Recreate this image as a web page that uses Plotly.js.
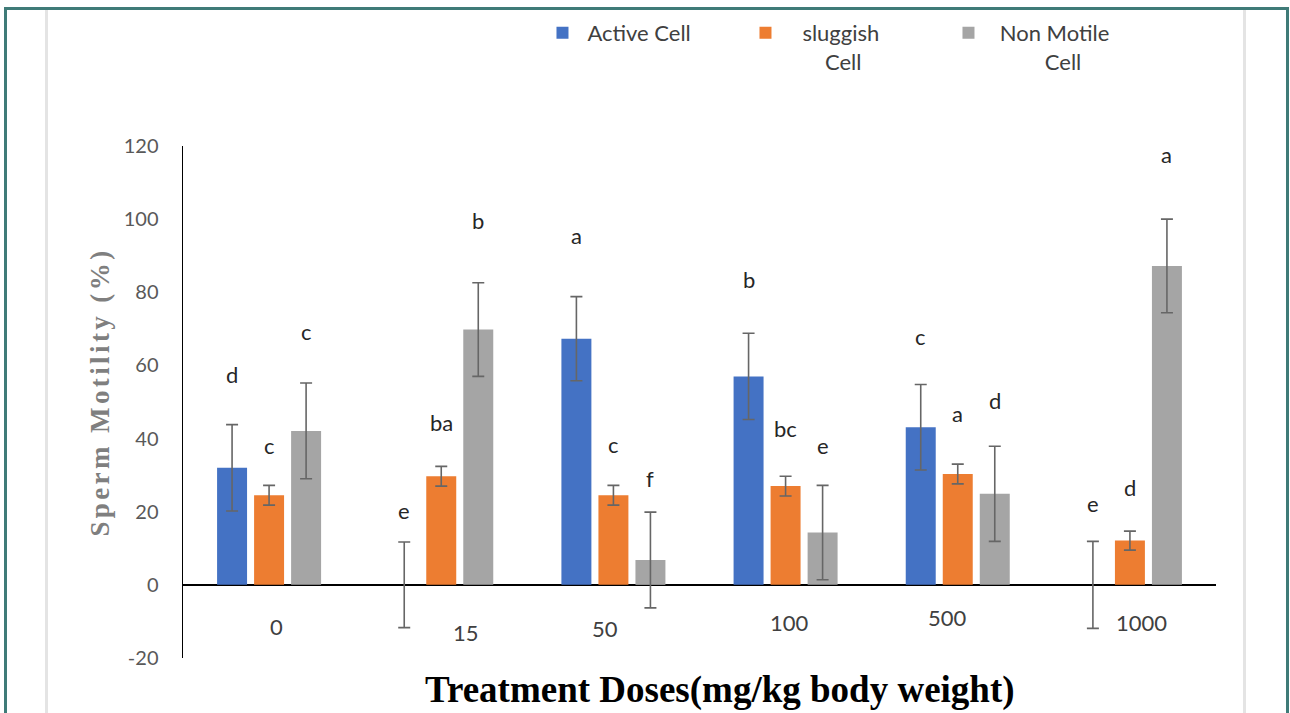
<!DOCTYPE html>
<html>
<head>
<meta charset="utf-8">
<script src="https://cdn.plot.ly/plotly-3.0.1.min.js"></script>
<style>
  html, body { margin: 0; padding: 0; background: #ffffff; overflow: hidden; }
  #wrap { position: relative; width: 1290px; height: 713px; }
  #chart { position: absolute; left: 0; top: 0; width: 1290px; height: 713px; }
  .frame { position: absolute; pointer-events: none; }
  #outer { left: 4px; top: 7px; width: 1279px; height: 720px;
           border: 3px solid #3f7b78; border-bottom: none; }
  .rule { top: 10px; width: 3px; height: 703px; background: #e4e4e4; }
</style>
</head>
<body>
<div id="wrap">
  <div id="chart"></div>
  <div id="outer" class="frame"></div>
  <div class="frame rule" style="left:45px"></div>
  <div class="frame rule" style="left:1243px"></div>
</div>
<script>
// Treatment doses (mg/kg body weight)
const doses = ['0', '15', '50', '100', '500', '1000'];

// Sperm motility (%) per dose
const activeCell    = [32.0, 0, 67.3, 57.0, 43.1, 0];
const activeErr     = [11.8, 11.7, 11.5, 11.8, 11.7, 11.9];
const sluggishCell  = [24.5, 29.7, 24.5, 27.0, 30.3, 12.1];
const sluggishErr   = [2.7, 2.7, 2.7, 2.7, 2.7, 2.6];
const nonMotileCell = [42.1, 69.8, 6.8, 14.3, 24.9, 87.2];
const nonMotileErr  = [13.1, 12.8, 13.1, 12.9, 13.0, 12.8];

// Significance letters
const activeLetters    = ['d', 'e', 'a', 'b', 'c', 'e'];
const sluggishLetters  = ['c', 'ba', 'c', 'bc', 'a', 'd'];
const nonMotileLetters = ['c', 'b', 'f', 'e', 'd', 'a'];

// Series names as shown in the legend
const seriesNames = ['Active Cell', 'sluggish', 'Non Motile'];

// Value-axis ticks (plain hyphen for negatives)
const yTickValues = [-20, 0, 20, 40, 60, 80, 100, 120];
const yTickLabels = ['-20', '0', '20', '40', '60', '80', '100', '120'];

// ---- placement of the letters and dose labels (axis units / pixels) ----
const letterLevels = [
  [57.6, 20.3, 95.4, 83.5, 67.9, 22.2],
  [38.0, 44.3, 38.4, 42.8, 46.9, 26.7],
  [69.3, 99.5, 29.0, 38.2, 50.5, 117.8]
];
const seriesShift = [-37, 0, 37];
const doseLabelLevel = [-11.4, -13.0, -11.9, -10.3, -8.9, -10.3];
const doseLabelShift = [7, 25, -8, 4, -10, 12];

const NB = '\u00a0';
const legendText = [
  NB + seriesNames[0],
  NB.repeat(3) + seriesNames[1] + '<br>' + NB.repeat(7) + 'Cell',
  NB.repeat(2) + seriesNames[2] + '<br>' + NB.repeat(10) + 'Cell'
];

const colors = ['#4472C4', '#ED7D31', '#A5A5A5'];
const values = [activeCell, sluggishCell, nonMotileCell];
const errs = [activeErr, sluggishErr, nonMotileErr];
const letters = [activeLetters, sluggishLetters, nonMotileLetters];

const traces = values.map((v, i) => ({
  type: 'bar',
  name: legendText[i],
  x: doses,
  y: v,
  marker: { color: colors[i], line: { width: 0 } },
  error_y: { type: 'data', array: errs[i], visible: true,
             color: '#666666', thickness: 1.6, width: 6 },
  hoverinfo: 'x+y'
}));

// annotations on a category axis are placed by category index
const annotations = [];
letters.forEach((arr, s) => {
  arr.forEach((t, k) => {
    annotations.push({
      x: k, y: letterLevels[s][k], xref: 'x', yref: 'y',
      xshift: seriesShift[s], text: t, showarrow: false,
      xanchor: 'center', yanchor: 'middle',
      font: { family: 'Lato, sans-serif', size: 22, color: '#262626' }
    });
  });
});
doses.forEach((d, k) => {
  annotations.push({
    x: k, y: doseLabelLevel[k], xref: 'x', yref: 'y',
    xshift: doseLabelShift[k], text: d, showarrow: false,
    xanchor: 'center', yanchor: 'middle',
    font: { family: 'Lato, sans-serif', size: 22, color: '#404040' }
  });
});
// axis titles
annotations.push({
  xref: 'paper', yref: 'paper', x: -0.0805, y: 0.52,
  text: '<span style="letter-spacing:3.4px">Sperm Motility (%)</span>',
  textangle: -90, showarrow: false, xanchor: 'center', yanchor: 'middle',
  font: { family: '"Liberation Serif", "Times New Roman", serif', size: 27, color: '#7f7f7f', weight: 'bold' }
});
annotations.push({
  xref: 'paper', yref: 'paper', x: 0.52, y: -0.0625,
  text: '<b>Treatment Doses(mg/kg body weight)</b>',
  showarrow: false, xanchor: 'center', yanchor: 'middle',
  font: { family: '"Liberation Serif", "Times New Roman", serif', size: 37, color: '#000000' }
});

const layout = {
  width: 1290, height: 713,
  margin: { l: 183, r: 74, t: 146, b: 55 },
  paper_bgcolor: '#ffffff', plot_bgcolor: '#ffffff',
  barmode: 'group', bargap: 0.355, bargroupgap: 0.19,
  showlegend: true,
  legend: {
    orientation: 'h', x: 0.348, xanchor: 'left', y: 1.262, yanchor: 'top',
    valign: 'top', entrywidth: 158, entrywidthmode: 'pixels',
    itemwidth: 30, bgcolor: 'rgba(0,0,0,0)',
    font: { family: 'Lato, sans-serif', size: 22, color: '#404040' }
  },
  xaxis: {
    type: 'category', range: [-0.5, 5.5], autorange: false,
    showline: false, showgrid: false, zeroline: false,
    showticklabels: false, ticks: ''
  },
  yaxis: {
    range: [-20, 120], autorange: false, showgrid: false,
    tickmode: 'array', tickvals: yTickValues, ticktext: yTickLabels,
    showline: true, linecolor: '#000000', linewidth: 1.5,
    zeroline: true, zerolinecolor: '#000000', zerolinewidth: 1.5,
    ticks: '', ticklabelstandoff: 19,
    tickfont: { family: 'Lato, sans-serif', size: 20, color: '#595959' }
  },
  annotations: annotations
};

Plotly.newPlot('chart', traces, layout, { displayModeBar: false, staticPlot: true });
</script>
</body>
</html>
